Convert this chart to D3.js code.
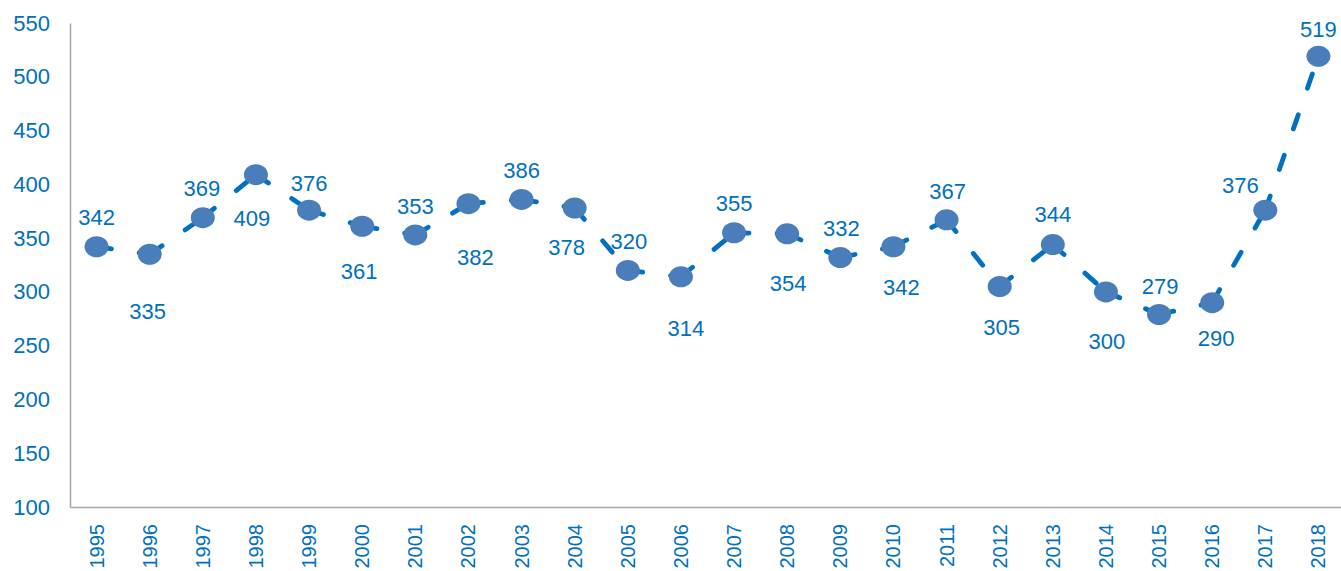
<!DOCTYPE html>
<html>
<head>
<meta charset="utf-8">
<script src="https://cdn.jsdelivr.net/npm/d3@7"></script>
<style>
  html, body { margin: 0; padding: 0; background: #fff; }
  svg { display: block; font-family: "Liberation Sans", Arial, sans-serif; }
</style>
</head>
<body>
<svg id="chart" width="1341" height="571"></svg>
<script>
// Annual values, 1995–2018
const years = ["1995","1996","1997","1998","1999","2000","2001","2002","2003","2004","2005","2006",
               "2007","2008","2009","2010","2011","2012","2013","2014","2015","2016","2017","2018"];
const values = [342,335,369,409,376,361,353,382,386,378,320,314,355,354,332,342,367,305,344,300,279,290,376,519];
const yTicks = [100,150,200,250,300,350,400,450,500,550];

// Value-label placement relative to each marker (px)
const labelOffsets = [[0,-29],[-2,57],[-1,-29],[-4,44],[0,-27],[-3,45],[0,-28],[7,54],[0,-29],[-8,40],
                      [1,-29],[5,52],[0,-29],[1,50],[1,-29],[8,41],[1,-28],[2,41],[0,-30],[1,50],
                      [1,-28],[4,36],[-25,-25],[0,-27]];

const textColor = "#0070C0";
const lineColor = "#0070C0";
const dotColor = "#4A7EBB";
const axisColor = "#A6A6A6";
const fontSize = 22;
const yearFontSize = 20;

const svg = d3.select("#chart");

const x = d3.scaleBand().domain(years).range([70, 1345]);
const cx = d => x(d) + x.bandwidth() / 2;
const y = d3.scaleLinear().domain([100, 550]).range([507, 23]);

// Y axis
const gy = svg.append("g")
  .attr("transform", "translate(70,0)")
  .call(d3.axisLeft(y).tickValues(yTicks).tickSize(0).tickPadding(20));
gy.select(".domain").attr("stroke", axisColor).attr("stroke-width", 1.5);
gy.selectAll("text").attr("fill", textColor).style("font-size", fontSize + "px")
  .style("font-family", "'Liberation Sans', Arial, sans-serif");

// X axis with vertical year labels
const gx = svg.append("g")
  .attr("transform", "translate(0,507)")
  .call(d3.axisBottom(x).tickSize(0).tickSizeOuter(0));
gx.select(".domain").attr("stroke", axisColor).attr("stroke-width", 1.5);
gx.selectAll("text")
  .attr("fill", textColor)
  .style("font-size", yearFontSize + "px")
  .style("font-family", "'Liberation Sans', Arial, sans-serif")
  .attr("y", 0).attr("x", -17).attr("dy", "0.35em")
  .attr("transform", "rotate(-90)")
  .style("text-anchor", "end");

const points = years.map((yr, i) => [cx(yr), y(values[i])]);

// Dashed connectors, pattern restarting on each segment
const line = d3.line();
const segs = d3.pairs(points);
svg.append("g").selectAll("path").data(segs).join("path")
  .attr("d", d => line(d))
  .attr("fill", "none")
  .attr("stroke", lineColor)
  .attr("stroke-width", 4.8)
  .attr("stroke-linecap", "round")
  .attr("stroke-dasharray", "15 28");

// Markers
svg.append("g").selectAll("ellipse").data(points).join("ellipse")
  .attr("cx", d => d[0]).attr("cy", d => d[1])
  .attr("rx", 12).attr("ry", 10.5)
  .attr("fill", dotColor);

// Value labels
svg.append("g").selectAll("text").data(values).join("text")
  .attr("x", (v, i) => points[i][0] + labelOffsets[i][0])
  .attr("y", (v, i) => points[i][1] + labelOffsets[i][1])
  .attr("dominant-baseline", "central")
  .attr("text-anchor", "middle")
  .attr("fill", textColor)
  .style("font-size", fontSize + "px")
  .text(v => v);
</script>
</body>
</html>
